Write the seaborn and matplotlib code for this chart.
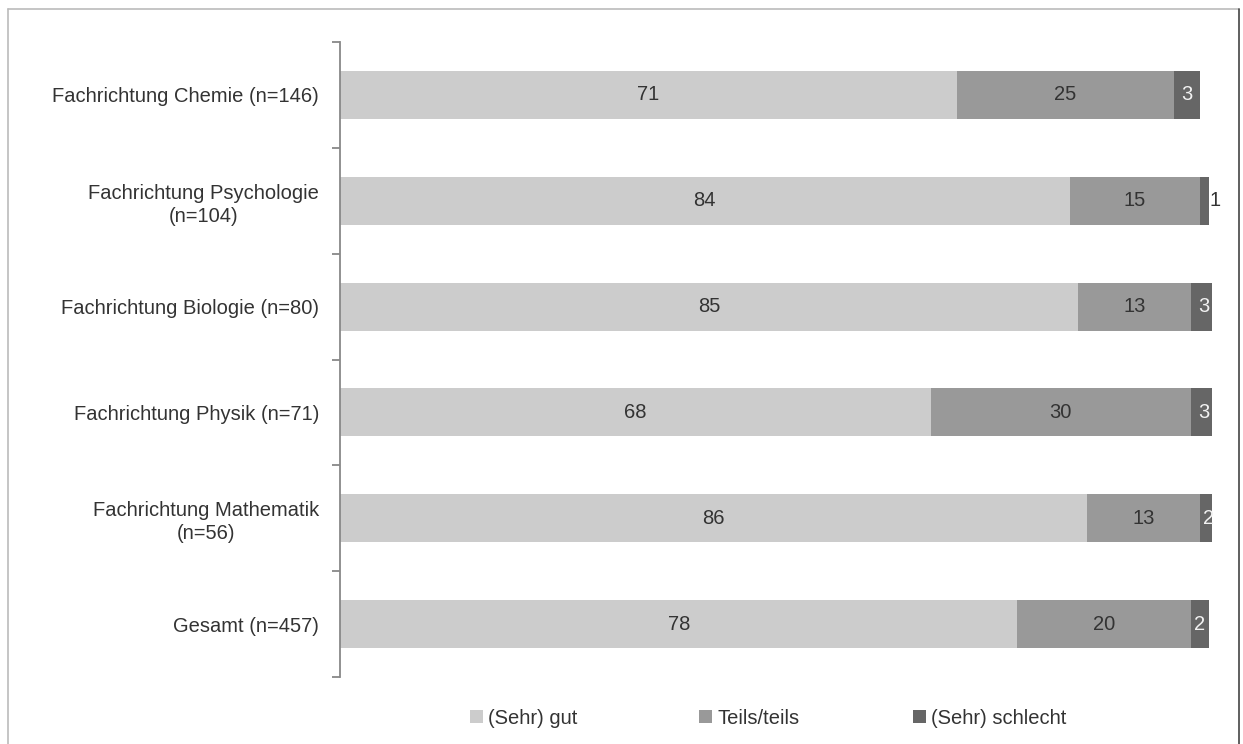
import matplotlib
matplotlib.use("Agg")
import matplotlib.pyplot as plt
from matplotlib.lines import Line2D
from matplotlib.patches import Patch
import numpy as np
import pandas as pd
import seaborn as sns

# Survey shares (percent) per subject group
categories = [
    "Fachrichtung Chemie (n=146)",
    "Fachrichtung Psychologie\n(n=104)",
    "Fachrichtung Biologie (n=80)",
    "Fachrichtung Physik (n=71)",
    "Fachrichtung Mathematik\n(n=56)",
    "Gesamt (n=457)",
]
sehr_gut = [71, 84, 85, 68, 86, 78]
teils = [25, 15, 13, 30, 13, 20]
schlecht = [3, 1, 3, 3, 2, 2]

series_names = ["(Sehr) gut", "Teils/teils", "(Sehr) schlecht"]
colors = ["#cccccc", "#999999", "#666666"]
text_colors = ["#333333", "#333333", "#f2f2f2"]

sns.set_theme(style="white")
plt.rcParams["font.family"] = ["Liberation Sans", "DejaVu Sans"]
FS = 14.5

df = pd.DataFrame({
    "cat": categories,
    "gut": sehr_gut,
    "teils": teils,
    "schlecht": schlecht,
})
df["c1"] = df["gut"]
df["c2"] = df["gut"] + df["teils"]
df["c3"] = df["c2"] + df["schlecht"]

fig = plt.figure(figsize=(12.43, 7.44), dpi=100)
ax = fig.add_axes([340 / 1243, 1 - 677 / 744, (1212 - 340) / 1243, (677 - 42) / 744])

# stacked bars: draw cumulative totals from longest to shortest
for col, c in zip(["c3", "c2", "c1"], colors[::-1]):
    sns.barplot(data=df, x=col, y="cat", order=categories, color=c,
                orient="h", width=0.455, ax=ax, linewidth=0, saturation=1)

# segment value labels
starts = [np.zeros(len(categories)), df["c1"].values, df["c2"].values]
vals = [sehr_gut, teils, schlecht]
for k in range(3):
    for i in range(len(categories)):
        v = vals[k][i]
        s = starts[k][i]
        if v >= 2:
            ax.text(s + v / 2, i, f"{v}", ha="center", va="center",
                    fontsize=FS, color=text_colors[k])
        else:
            ax.text(s + v + 0.1, i, f"{v}", ha="left", va="center",
                    fontsize=FS, color="#333333")

ax.set_xlim(0, 100.4)
ax.set_ylim(5.5, -0.5)
ax.set_xlabel("")
ax.set_ylabel("")
ax.set_xticks([])
for side in ["top", "right", "bottom"]:
    ax.spines[side].set_visible(False)
ax.spines["left"].set_color("#888888")
ax.spines["left"].set_linewidth(1.3)

ax.set_yticks(range(len(categories)))
ax.set_yticklabels(categories, fontsize=FS, color="#333333",
                   multialignment="center", linespacing=1.25)
ax.set_yticks(np.arange(-0.5, len(categories), 1.0), minor=True)
ax.tick_params(axis="y", which="major", length=0, pad=15)
ax.tick_params(axis="y", which="minor", length=6, width=1.3,
               color="#888888", left=True)

# legend entries placed in fixed slots below the plot
legend_x = [470, 699, 913]
for name, c, lx in zip(series_names, colors, legend_x):
    fig.legend([Patch(facecolor=c, edgecolor="none")], [name], loc="center left",
               bbox_to_anchor=(lx / 1243, 1 - 718 / 744), frameon=False, fontsize=FS,
               handlelength=0.65, handleheight=0.65, handletextpad=0.25,
               borderpad=0, borderaxespad=0, labelcolor="#333333")

# outer frame
x0, x1 = 8 / 1243, 1239 / 1243
y1 = 1 - 9 / 744
fig.add_artist(Line2D([x0, x1], [y1, y1], transform=fig.transFigure, color="#bbbbbb", lw=1.2))
fig.add_artist(Line2D([x0, x0], [0, y1], transform=fig.transFigure, color="#bbbbbb", lw=1.2))
fig.add_artist(Line2D([x1, x1], [0, y1], transform=fig.transFigure, color="#444444", lw=1.2))

fig.savefig("out.png", dpi=100, facecolor="white")
